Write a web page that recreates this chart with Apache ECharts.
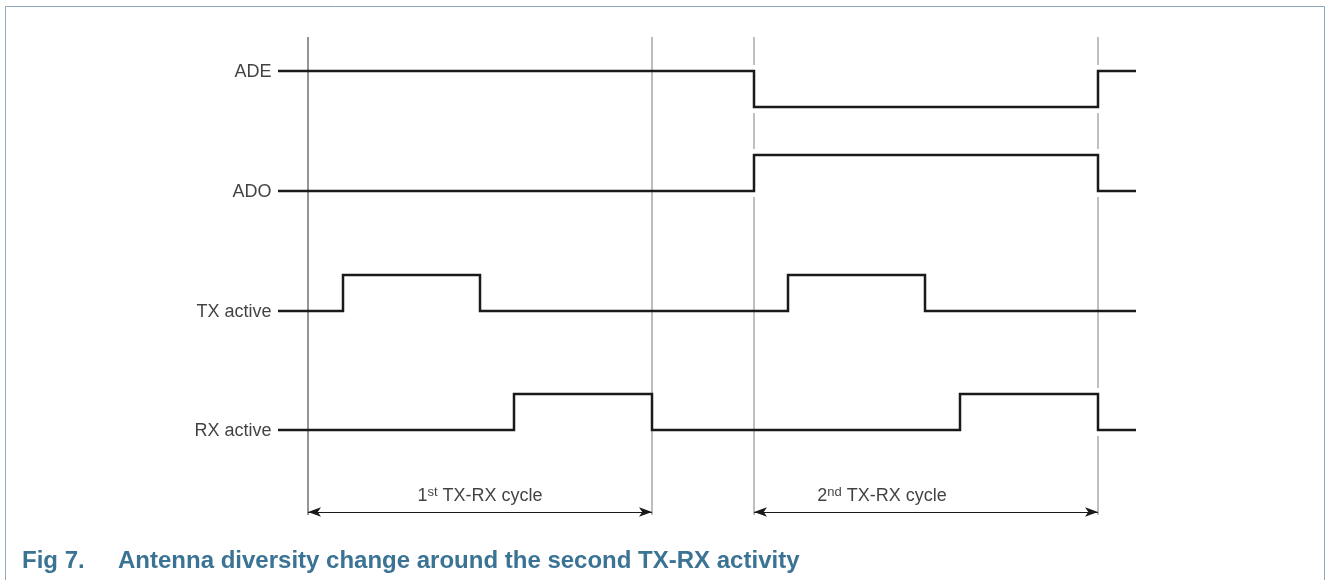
<!DOCTYPE html>
<html>
<head>
<meta charset="utf-8">
<script src="https://cdn.jsdelivr.net/npm/echarts@6/dist/echarts.min.js"></script>
<style>
html,body{margin:0;padding:0;background:#fff;}
#chart{width:1327px;height:580px;}
</style>
</head>
<body>
<div id="chart"></div>
<script>
// ---------- DATA ----------
const signalNames = ['ADE', 'ADO', 'TX active', 'RX active'];
// change points per signal: [time, level]
const adeEdges = [[-30, 1], [446, 0], [790, 1], [828, 1]];
const adoEdges = [[-30, 0], [446, 1], [790, 0], [828, 0]];
const txEdges  = [[-30, 0], [35, 1], [172, 0], [480, 1], [617, 0], [828, 0]];
const rxEdges  = [[-30, 0], [206, 1], [344, 0], [652, 1], [790, 0], [828, 0]];
const markerTimes = [0, 344, 446, 790];
const markerBroken = [false, false, true, true];
const cycleStart = [0, 446];
const cycleEnd = [344, 790];
const cycleOrdinal = ['1', '2'];
const cycleSuffix = ['st', 'nd'];
const cycleText = 'TX-RX cycle';
const cycleLabelTime = [172, 574];
const titleNumber = 'Fig 7.';
const titleText = 'Antenna diversity change around the second TX-RX activity';

// ---------- LAYOUT ----------
const rowBaseY = [107, 191, 311, 430];
const levelH = 36;
const markerTop = 37, markerBottom = 515;
const arrowY = 512, cycleLabelY = 496;
const markerColors = ['#2a2a2a', '#7a7a7a', '#808080', '#808080'];
const FONT = 'Liberation Sans, Arial, sans-serif';

const allEdges = [adeEdges, adoEdges, txEdges, rxEdges];
function lvlY(row, lvl) { return rowBaseY[row] - lvl * levelH; }

const series = [];
// markers, broken where a signal switches at the same time
markerTimes.forEach(function (m, mi) {
  const gaps = [];
  if (markerBroken[mi]) {
    allEdges.forEach(function (edges, row) {
      for (let i = 1; i < edges.length - 1; i++) {
        if (edges[i][0] === m && edges[i][1] !== edges[i - 1][1]) {
          gaps.push([lvlY(row, 1) - 6, lvlY(row, 0) + 6]);
        }
      }
    });
  }
  gaps.sort(function (a, b) { return a[0] - b[0]; });
  let cur = markerTop;
  const segs = [];
  gaps.forEach(function (g) { segs.push([cur, g[0]]); cur = g[1]; });
  segs.push([cur, markerBottom]);
  segs.forEach(function (s) {
    series.push({
      type: 'line', silent: true, symbol: 'none', z: 1,
      lineStyle: { color: markerColors[mi], width: 1 },
      data: [[m, s[0]], [m, s[1]]]
    });
  });
});

// signals
allEdges.forEach(function (edges, row) {
  const pts = [[edges[0][0], lvlY(row, edges[0][1])]];
  for (let i = 1; i < edges.length; i++) {
    const prev = edges[i - 1][1];
    pts.push([edges[i][0], lvlY(row, prev)]);
    if (edges[i][1] !== prev) pts.push([edges[i][0], lvlY(row, edges[i][1])]);
  }
  series.push({
    type: 'line', silent: true, symbol: 'none', z: 3,
    lineStyle: { color: '#1a1a1a', width: 2.5, join: 'miter', cap: 'butt' },
    data: pts
  });
  series.push({
    type: 'scatter', silent: true, symbolSize: 1, z: 4,
    itemStyle: { color: 'rgba(0,0,0,0)' },
    label: {
      show: true, position: 'left', distance: 6,
      color: '#111', fontSize: 18, fontFamily: FONT,
      formatter: signalNames[row]
    },
    data: [[edges[0][0], lvlY(row, edges[0][1]) + 1]]
  });
});

// cycle arrows
series.push({
  type: 'line', silent: true, symbol: 'none', data: [],
  markLine: {
    silent: true, animation: false,
    symbol: ['arrow', 'arrow'], symbolSize: [7, 13],
    label: { show: false },
    lineStyle: { color: '#1a1a1a', width: 1, type: 'solid' },
    itemStyle: { color: '#1a1a1a' },
    data: cycleStart.map(function (s, i) {
      return [{ coord: [s, arrowY] }, { coord: [cycleEnd[i], arrowY] }];
    })
  }
});

// cycle labels
series.push({
  type: 'scatter', silent: true, symbolSize: 1, z: 4,
  itemStyle: { color: 'rgba(0,0,0,0)' },
  label: {
    show: true, position: 'inside',
    color: '#111', fontSize: 18, fontFamily: FONT,
    formatter: function (p) {
      const i = p.dataIndex;
      return '{n|' + cycleOrdinal[i] + '}{s|' + cycleSuffix[i] + '}{n| ' + cycleText + '}';
    },
    rich: {
      n: { fontSize: 18, color: '#111', fontFamily: FONT },
      s: { fontSize: 13, color: '#111', fontFamily: FONT, padding: [0, 0, 7, 0] }
    }
  },
  data: cycleLabelTime.map(function (t) { return [t, cycleLabelY]; })
});

const chart = echarts.init(document.getElementById('chart'), null, { renderer: 'canvas' });
chart.setOption({
  animation: false,
  grid: { left: 278, right: 191, top: 0, bottom: 0 },
  xAxis: { type: 'value', min: -30, max: 828, show: false },
  yAxis: { type: 'value', min: 0, max: 580, inverse: true, show: false },
  series: series,
  graphic: [
    {
      type: 'polyline', silent: true,
      shape: { points: [[5.5, 580], [5.5, 6.5], [1324.5, 6.5], [1324.5, 580]] },
      style: { stroke: '#8ea8bd', lineWidth: 1, fill: null }
    },
    {
      type: 'text', left: 22, top: 549, silent: true,
      style: { text: titleNumber, fill: '#3b7394', font: 'bold 24px "Liberation Sans", Arial, sans-serif' }
    },
    {
      type: 'text', left: 118, top: 549, silent: true,
      style: { text: titleText, fill: '#3b7394', font: 'bold 24px "Liberation Sans", Arial, sans-serif' }
    }
  ]
});
</script>
</body>
</html>
